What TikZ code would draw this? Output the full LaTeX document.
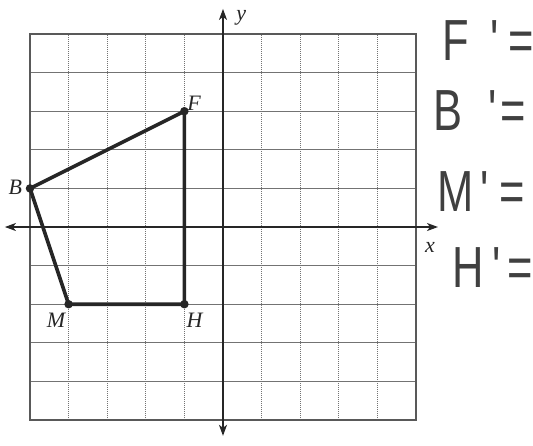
\documentclass[tikz,border=0pt]{standalone}
\usepackage{fontspec}
\setmainfont{Liberation Serif}
\newfontfamily\handfont[FakeStretch=0.75]{Liberation Sans}
\usetikzlibrary{arrows.meta}
\tikzset{
  gridv/.style={black!55, line width=1pt, dash pattern=on 1.2pt off 0.8pt},
  gridh/.style={black!55, line width=1pt},
  gridframe/.style={black!65, line width=1.1pt},
  axis/.style={black!85, line width=1.4pt, {Stealth[length=11pt,width=8pt,inset=3pt]}-{Stealth[length=11pt,width=8pt,inset=3pt]}},
  edge/.style={black!85, line width=3.6pt, line join=round},
  vert/.style={circle, fill=black!85, inner sep=0pt, minimum size=8.5pt},
  ptlabel/.style={font=\fontsize{22}{22}\selectfont\itshape, inner sep=0pt, text=black!85},
  hand/.style={font=\handfont\fontsize{58}{58}\selectfont, text=black!75, inner sep=0pt, anchor=west}
}
\begin{document}
\begin{tikzpicture}[x=38.6pt,y=38.6pt]
\useasboundingbox (-5.777,-5.648) rectangle (8.031,5.881);
% grid
\foreach \i in {-4,...,4} {
  \draw[gridv] (\i,-5) -- (\i,5);
  \draw[gridh] (-5,\i) -- (5,\i);
}
\draw[gridframe] (-5,-5) rectangle (5,5);
% axes
\coordinate (xl) at (-5.65,0);
\coordinate (xr) at (5.57,0);
\coordinate (yb) at (0,-5.41);
\coordinate (yt) at (0,5.65);
\draw[axis] (xl) -- (xr);
\draw[axis] (yb) -- (yt);
\node[ptlabel] (ylab) at (0.47,5.43) {y};
\node[ptlabel] (xlab) at (5.36,-0.52) {x};
% polygon
\node[vert] (F) at (-1,3) {};
\node[vert] (B) at (-5,1) {};
\node[vert] (M) at (-4,-2) {};
\node[vert] (H) at (-1,-2) {};
\draw[edge] (F.center) -- (B.center) -- (M.center) -- (H.center) -- cycle;
\node[ptlabel, anchor=south west] (Fl) at (-0.93,3.02) {F};
\node[ptlabel, anchor=east] (Bl) at (-5.2,1.02) {B};
\node[ptlabel, anchor=north east] (Ml) at (-4.08,-2.23) {M};
\node[ptlabel, anchor=north west] (Hl) at (-0.95,-2.23) {H};
% handwritten answers
\node[hand] (Fp) at (5.68,4.84) {F\hspace{22pt}\textquotesingle\hspace{6pt}=};
\node[hand] (Bp) at (5.44,3.03) {B\hspace{26pt}\textquotesingle\hspace{1pt}=};
\node[hand] (Mp) at (5.54,0.93) {M\hspace{7pt}\textquotesingle\hspace{8pt}=};
\node[hand] (Hp) at (5.93,-1.04) {H\hspace{9pt}\textquotesingle\hspace{4pt}=};
\end{tikzpicture}
\end{document}
